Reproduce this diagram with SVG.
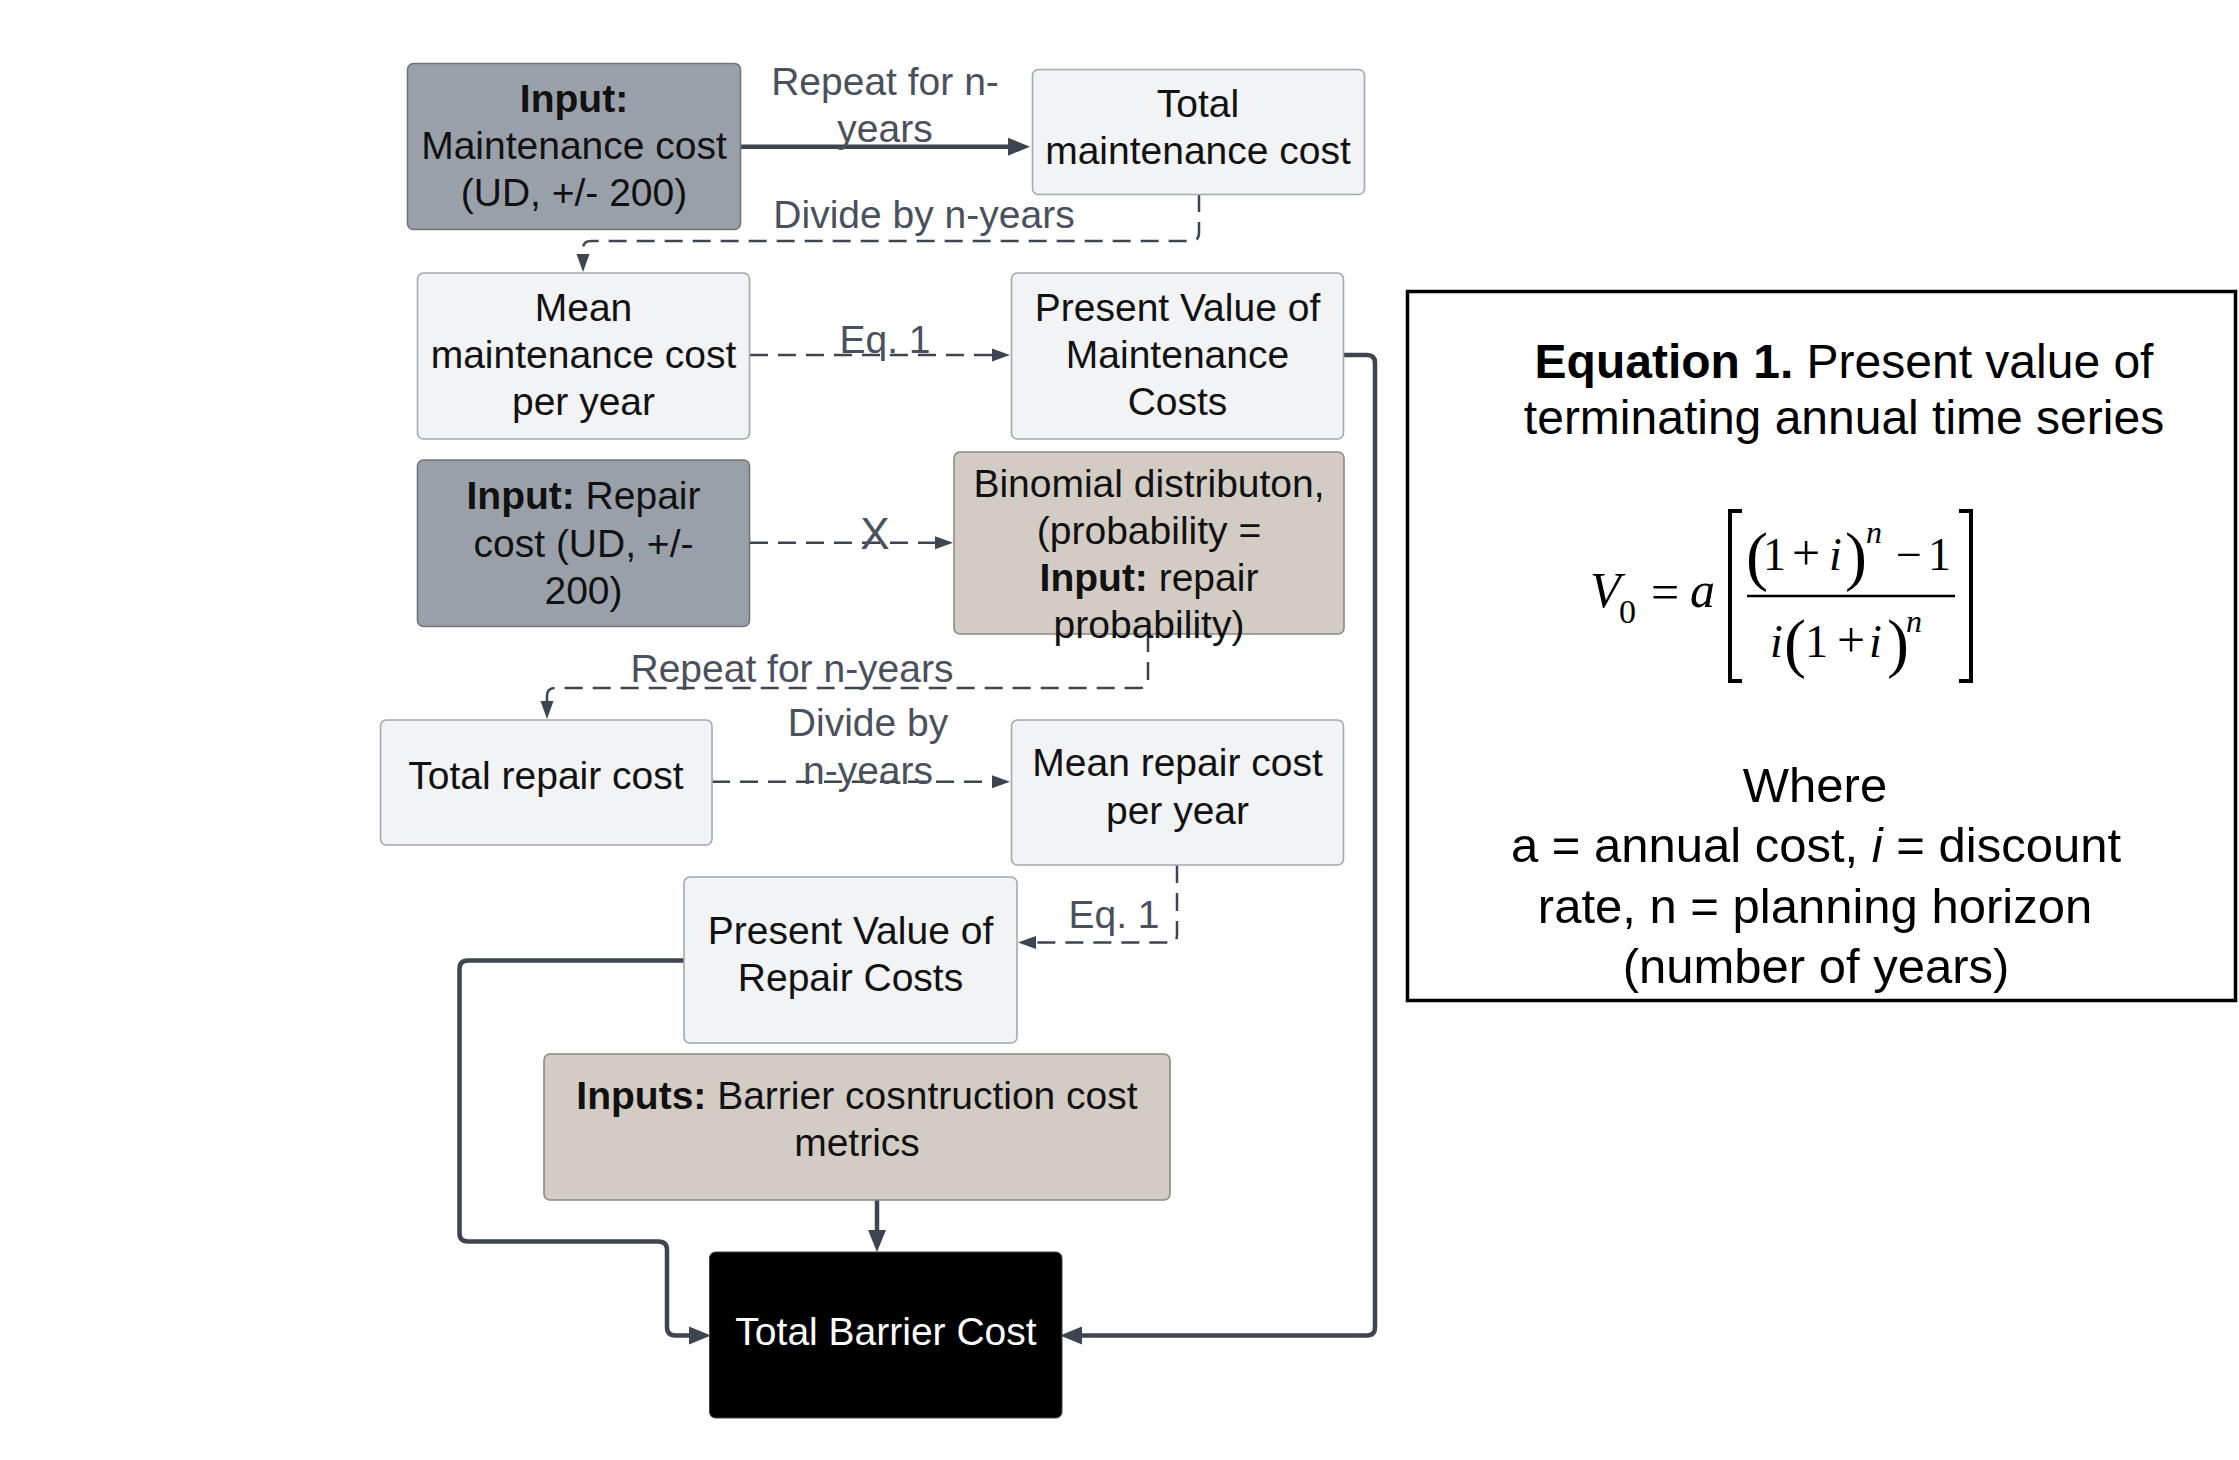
<svg xmlns="http://www.w3.org/2000/svg" width="2239" height="1460" viewBox="0 0 2239 1460">
<style>
.t{font-family:"Liberation Sans",Arial,sans-serif;font-size:39px;fill:#111;text-anchor:middle}
.b{font-weight:bold}
.lbl{font-family:"Liberation Sans",Arial,sans-serif;font-size:39px;fill:#4a505c;text-anchor:middle}
.light{fill:#f2f3f5;stroke:#a3a7ae;stroke-width:1.6}
.grey{fill:#9aa0a9;stroke:#6f747c;stroke-width:1.6}
.beige{fill:#d3ccc5;stroke:#8d8983;stroke-width:1.6}
.solid{fill:none;stroke:#3e4450;stroke-width:4.5;stroke-linejoin:round}
.dash{fill:none;stroke:#3e4450;stroke-width:2.5;stroke-dasharray:18 10}
.eq{font-family:"Liberation Sans",Arial,sans-serif;font-size:48px;fill:#000;text-anchor:middle}
.m{font-family:"Liberation Serif","Times New Roman",serif;font-size:46px;fill:#000}
.mi{font-style:italic}
.p{font-size:66px}
.sup{font-size:32px;font-style:italic}
</style>
<defs>
<marker id="ah" markerUnits="userSpaceOnUse" markerWidth="22" markerHeight="20" viewBox="0 0 22 20" refX="4" refY="10" orient="auto">
<path d="M0,1 L22,10 L0,19 z" fill="#3e4450"/>
</marker>
<marker id="ad" markerUnits="userSpaceOnUse" markerWidth="18" markerHeight="14" viewBox="0 0 18 14" refX="2" refY="7" orient="auto">
<path d="M0,0.5 L18,7 L0,13.5 z" fill="#3e4450"/>
</marker>
</defs>
<rect width="2239" height="1460" fill="#fff"/>

<g id="connectors">
<path class="solid" d="M740 146.7 H1012" marker-end="url(#ah)"/>
<path class="dash" d="M1199 194 V233 Q1199 241 1191 241 H591 Q583 241 583 249 V256" marker-end="url(#ad)"/>
<path class="dash" d="M750 355 H994" marker-end="url(#ad)"/>
<path class="solid" d="M1344 355 H1367 Q1375 355 1375 363 V1327 Q1375 1335.5 1367 1335.5 H1078" marker-end="url(#ah)"/>
<path class="dash" d="M750 542.7 H937" marker-end="url(#ad)"/>
<path class="dash" d="M1148 634 V680 Q1148 688 1140 688 H555 Q547 688 547 696 V703" marker-end="url(#ad)"/>
<path class="dash" d="M712 781.7 H994" marker-end="url(#ad)"/>
<path class="dash" d="M1177 865 V935 Q1177 942.6 1169 942.6 H1034" marker-end="url(#ad)"/>
<path class="solid" d="M684 960.5 H468 Q459.5 960.5 459.5 969 V1233 Q459.5 1241.5 468 1241.5 H658.5 Q667 1241.5 667 1250 V1327 Q667 1335.5 675.5 1335.5 H693" marker-end="url(#ah)"/>
<path class="solid" d="M877 1200 V1234" marker-end="url(#ah)"/>
<text class="lbl" x="885" y="95">Repeat for n-</text>
<text class="lbl" x="885" y="142">years</text>
<text class="lbl" x="924" y="228">Divide by n-years</text>
<text class="lbl" x="885" y="353">Eq. 1</text>
<text class="lbl" x="875" y="549" style="font-size:44px">X</text>
<text class="lbl" x="792" y="682">Repeat for n-years</text>
<text class="lbl" x="868" y="736">Divide by</text>
<text class="lbl" x="868" y="784">n-years</text>
<text class="lbl" x="1114" y="928">Eq. 1</text>
</g>

<g id="input-maintenance">
<rect class="grey" x="407.5" y="63.5" width="333" height="166" rx="6"/>
<text class="t b" x="574" y="112">Input:</text>
<text class="t" x="574" y="159">Maintenance cost</text>
<text class="t" x="574" y="206">(UD, +/- 200)</text>
</g>
<g id="total-maintenance">
<rect class="light" x="1032.5" y="69.5" width="332" height="125" rx="6"/>
<text class="t" x="1198" y="117">Total</text>
<text class="t" x="1198" y="164">maintenance cost</text>
</g>
<g id="mean-maintenance">
<rect class="light" x="417.5" y="273" width="332" height="166" rx="6"/>
<text class="t" x="583.5" y="321">Mean</text>
<text class="t" x="583.5" y="368">maintenance cost</text>
<text class="t" x="583.5" y="415">per year</text>
</g>
<g id="pv-maintenance">
<rect class="light" x="1011.5" y="273" width="332" height="166" rx="6"/>
<text class="t" x="1177.5" y="321">Present Value of</text>
<text class="t" x="1177.5" y="368">Maintenance</text>
<text class="t" x="1177.5" y="415">Costs</text>
</g>
<g id="input-repair">
<rect class="grey" x="417.5" y="460" width="332" height="166.5" rx="6"/>
<text class="t" x="583.5" y="509"><tspan class="b">Input:</tspan> Repair</text>
<text class="t" x="583.5" y="557">cost (UD, +/-</text>
<text class="t" x="583.5" y="604">200)</text>
</g>
<g id="binomial">
<rect class="beige" x="954" y="452" width="390" height="182" rx="6"/>
<text class="t" x="1149" y="497">Binomial distributon,</text>
<text class="t" x="1149" y="544">(probability =</text>
<text class="t" x="1149" y="591"><tspan class="b">Input:</tspan> repair</text>
<text class="t" x="1149" y="638">probability)</text>
</g>
<g id="total-repair">
<rect class="light" x="380.5" y="720" width="331.5" height="125" rx="6"/>
<text class="t" x="546" y="789">Total repair cost</text>
</g>
<g id="mean-repair">
<rect class="light" x="1011.5" y="720" width="332" height="145" rx="6"/>
<text class="t" x="1177.5" y="776">Mean repair cost</text>
<text class="t" x="1177.5" y="824">per year</text>
</g>
<g id="pv-repair">
<rect class="light" x="684" y="877" width="333" height="166" rx="6"/>
<text class="t" x="850.5" y="944">Present Value of</text>
<text class="t" x="850.5" y="991">Repair Costs</text>
</g>
<g id="barrier-inputs">
<rect class="beige" x="544" y="1054" width="626" height="146" rx="6"/>
<text class="t" x="857" y="1109"><tspan class="b">Inputs:</tspan> Barrier cosntruction cost</text>
<text class="t" x="857" y="1156">metrics</text>
</g>
<g id="total-barrier">
<rect x="709.5" y="1252" width="352.5" height="166" rx="6" fill="#000" stroke="#444" stroke-width="1"/>
<text class="t" x="886" y="1345" style="fill:#fff">Total Barrier Cost</text>
</g>

<g id="equation-box">
<rect x="1407.5" y="291.5" width="828" height="709" fill="#fff" stroke="#000" stroke-width="3.5"/>
<text class="eq" x="1844" y="378"><tspan font-weight="bold">Equation 1.</tspan> Present value of</text>
<text class="eq" x="1844" y="434">terminating annual time series</text>
<text class="m mi" x="1590" y="607" style="font-size:50px">V</text>
<text class="m" x="1619" y="623" style="font-size:34px">0</text>
<text class="m" x="1665" y="609" style="font-size:50px;text-anchor:middle">=</text>
<text class="m mi" x="1690" y="607" style="font-size:50px">a</text>
<polyline points="1742,511 1730,511 1730,681 1742,681" fill="none" stroke="#000" stroke-width="4"/>
<polyline points="1959,511 1971,511 1971,681 1959,681" fill="none" stroke="#000" stroke-width="4"/>
<line x1="1747" y1="596" x2="1955" y2="596" stroke="#000" stroke-width="2.5"/>
<text class="m"><tspan class="p" x="1746" y="578">(</tspan><tspan x="1763" y="570">1</tspan><tspan x="1792" y="570" style="font-size:50px">+</tspan><tspan class="mi" x="1829" y="570">i</tspan><tspan class="p" x="1845" y="578">)</tspan><tspan class="sup" x="1866" y="543">n</tspan><tspan x="1896" y="570">−</tspan><tspan x="1928" y="570">1</tspan></text>
<text class="m"><tspan class="mi" x="1770" y="657">i</tspan><tspan class="p" x="1784" y="665">(</tspan><tspan x="1805" y="657">1</tspan><tspan x="1837" y="657" style="font-size:50px">+</tspan><tspan class="mi" x="1869" y="657">i</tspan><tspan class="p" x="1887" y="665">)</tspan><tspan class="sup" x="1906" y="632">n</tspan></text>
<text class="eq" x="1815" y="802" style="font-size:49px">Where</text>
<text class="eq" x="1816" y="862" style="font-size:49px">a = annual cost, <tspan font-style="italic">i</tspan> = discount</text>
<text class="eq" x="1815" y="923" style="font-size:49px">rate, n = planning horizon</text>
<text class="eq" x="1816" y="983" style="font-size:49px">(number of years)</text>
</g>
</svg>
